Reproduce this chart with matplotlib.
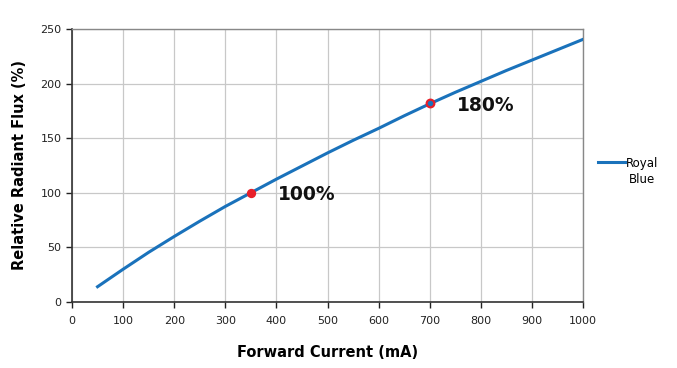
import matplotlib
matplotlib.use("Agg")
import matplotlib.pyplot as plt

current_ma = [50, 100, 150, 200, 250, 300, 350, 400, 450, 500, 550, 600, 650, 700, 750, 800, 850, 900, 950, 1000]
radiant_flux = [14, 30, 45.5, 60, 74, 87.5, 100, 112.5, 124.5, 136.5, 148, 159, 170.5, 181.5, 192, 202, 212, 221.5, 231, 240.5]
marked_x = [350, 700]
marked_y = [100, 182]
marked_labels = ["100%", "180%"]
xticks = list(range(0, 1001, 100))
yticks = list(range(0, 251, 50))

fig = plt.figure(figsize=(6.77, 3.68), dpi=100)
ax = fig.add_axes([72/677, 66/368, (583-72)/677, (302-29)/368])

ax.plot(current_ma, radiant_flux, color="#1a72bb", lw=2.2, label="Royal", zorder=3)
ax.plot(marked_x[0], marked_y[0], 'o', ms=5.5, mfc="#e8202a", mec="#e8202a", mew=1.2, zorder=4)
ax.plot(marked_x[1], marked_y[1], 'o', ms=5.5, mfc="#1a72bb", mec="#e8202a", mew=1.6, zorder=4)
for x, y, t in zip(marked_x, marked_y, marked_labels):
    ax.text(x + 53, y - 2, t, fontsize=13.5, fontweight="bold", va="center", ha="left", color="#111111")

ax.set_xlim(0, 1000)
ax.set_ylim(0, 250)
ax.set_xticks(xticks)
ax.set_yticks(yticks)
ax.grid(True, color="#c8c8c8", lw=0.9)
ax.set_axisbelow(True)
for s in ["top", "right"]:
    ax.spines[s].set_color("#888888")
    ax.spines[s].set_linewidth(1)
for s in ["left", "bottom"]:
    ax.spines[s].set_color("#333333")
    ax.spines[s].set_linewidth(1.2)
ax.tick_params(axis="both", labelsize=8, colors="#222222", length=4, width=1, direction="out")
ax.tick_params(axis="x", pad=6)
ax.set_xlabel("Forward Current (mA)", fontsize=10.5, fontweight="bold", labelpad=14)
ax.set_ylabel("Relative Radiant Flux (%)", fontsize=10.5, fontweight="bold", labelpad=10)

leg = fig.legend(loc="center left", bbox_to_anchor=(598/677, 1 - 163/368), frameon=False,
                 fontsize=8.5, handlelength=2.3, handletextpad=0.1, borderpad=0, borderaxespad=0)
fig.text(629/677, 1 - 180/368, "Blue", fontsize=8.5, va="center", ha="left")

fig.savefig("out.png", dpi=100)
